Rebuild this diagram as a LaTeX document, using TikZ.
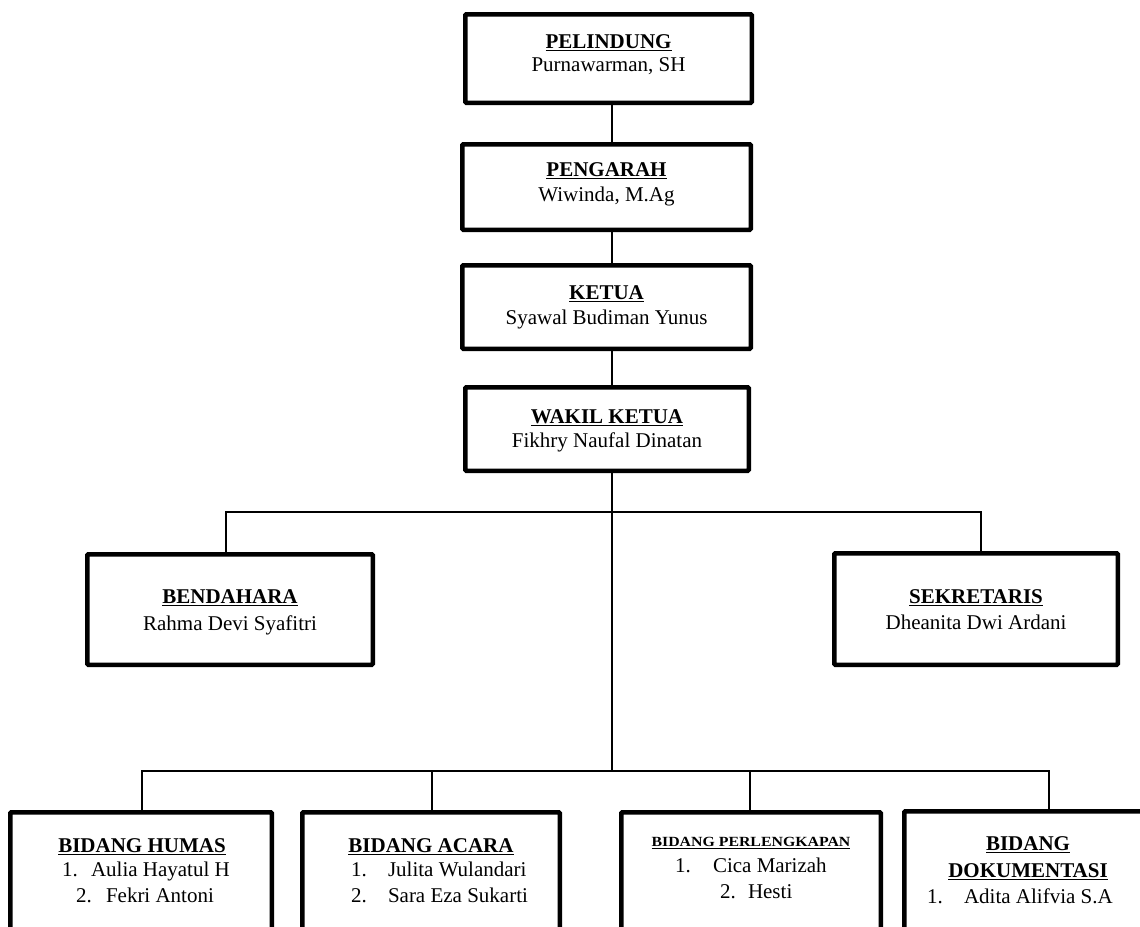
\documentclass[tikz,border=0pt]{standalone}
\usepackage{fontspec}
\setmainfont{Liberation Serif}
\usepackage{graphicx}
\newcommand\ulbf[1]{{\bfseries\setbox0\hbox{#1}\rlap{\rule[-3.4pt]{\wd0}{1.5pt}}\box0}}
\tikzset{
  box/.style={draw, line width=4.5pt, rounded corners=1pt, inner sep=0pt, outer sep=0pt},
  conn/.style={line width=1.6pt},
  txt/.style={anchor=base, inner sep=0pt, outer sep=0pt},
  lft/.style={anchor=base west, inner sep=0pt, outer sep=0pt}
}
\begin{document}
\begin{tikzpicture}[x=1pt, y=-1pt, font=\fontsize{21}{25}\selectfont]
\useasboundingbox (0,0) rectangle (1140,926);
\clip (0,0) rectangle (1140,926);

% boxes
\node[box, minimum width=286.5, minimum height=88.5] (pel) at (608.5,58.5) {};
\node[box, minimum width=288.5, minimum height=85.5] (pen) at (606.5,187) {};
\node[box, minimum width=288.5, minimum height=83.5] (ket) at (606.5,307) {};
\node[box, minimum width=283.5, minimum height=83.5] (wak) at (607,429) {};
\node[box, minimum width=285.5, minimum height=110.5] (ben) at (230,609.5) {};
\node[box, minimum width=283.5, minimum height=111.5] (sek) at (976,609) {};
\node[box, minimum width=261.5, minimum height=145.5] (hum) at (141,885) {};
\node[box, minimum width=257.5, minimum height=145.5] (aca) at (431,885) {};
\node[box, minimum width=259.5, minimum height=145.5] (per) at (751,885) {};
\node[box, minimum width=263.5, minimum height=145.5] (dok) at (1036,884) {};

% texts
\node[txt] (pelT) at (608.5,48) {\ulbf{PELINDUNG}};
\node[txt] (pelN) at (608.5,71) {Purnawarman, SH};
\node[txt] (penT) at (606.5,176) {\ulbf{PENGARAH}};
\node[txt] (penN) at (606.5,201) {Wiwinda, M.Ag};
\node[txt] (ketT) at (606.5,299) {\ulbf{KETUA}};
\node[txt] (ketN) at (606.5,324) {Syawal Budiman Yunus};
\node[txt] (wakT) at (607,423) {\ulbf{WAKIL KETUA}};
\node[txt] (wakN) at (607,447) {Fikhry Naufal Dinatan};
\node[txt] (benT) at (230,603) {\ulbf{BENDAHARA}};
\node[txt] (benN) at (230,630) {Rahma Devi Syafitri};
\node[txt] (sekT) at (976,603) {\ulbf{SEKRETARIS}};
\node[txt] (sekN) at (976,629) {Dheanita Dwi Ardani};

\node[txt] (humT) at (142,852) {\ulbf{BIDANG HUMAS}};
\node[lft] (hum1) at (62,876) {1.};
\node[lft] (hum1n) at (91,876) {Aulia Hayatul H};
\node[lft] (hum2) at (76,902) {2.};
\node[lft] (hum2n) at (106,902) {Fekri Antoni};

\node[txt] (acaT) at (431,852) {\ulbf{BIDANG ACARA}};
\node[lft] (aca1) at (351,876) {1.};
\node[lft] (aca1n) at (388,876) {Julita Wulandari};
\node[lft] (aca2) at (351,902) {2.};
\node[lft] (aca2n) at (388,902) {Sara Eza Sukarti};

\node[txt] (perT) at (751,846) {\fontsize{14}{17}\selectfont\scalebox{1.13}[1]{\ulbf{BIDANG PERLENGKAPAN}}};
\node[lft] (per1) at (675,872) {1.};
\node[lft] (per1n) at (713,872) {Cica Marizah};
\node[lft] (per2) at (720,898) {2.};
\node[lft] (per2n) at (748,898) {Hesti};

\node[txt] (dokT) at (1028,850) {\ulbf{BIDANG}};
\node[txt] (dokT2) at (1028,877) {\ulbf{DOKUMENTASI}};
\node[lft] (dok1) at (927,903) {1.};
\node[lft] (dok1n) at (964,903) {Adita Alifvia S.A};

% connectors
\coordinate (sp) at (612,0);
\coordinate (b2) at (612,771);
\coordinate (bl) at (226,512);
\coordinate (br) at (981,512);
\coordinate (cl) at (142,771);
\coordinate (ca) at (432,771);
\coordinate (cp) at (750,771);
\coordinate (cr) at (1049,771);
\draw[conn] (pel.south -| sp) -- (pen.north -| sp);
\draw[conn] (pen.south -| sp) -- (ket.north -| sp);
\draw[conn] (ket.south -| sp) -- (wak.north -| sp);
\draw[conn] (wak.south -| sp) -- (b2);
\draw[conn] (ben.north -| bl) -- (bl) -- (br) -- (sek.north -| br);
\draw[conn] (hum.north -| cl) -- (cl) -- (cr) -- (dok.north -| cr);
\draw[conn] (aca.north -| ca) -- (ca);
\draw[conn] (per.north -| cp) -- (cp);
\end{tikzpicture}
\end{document}
